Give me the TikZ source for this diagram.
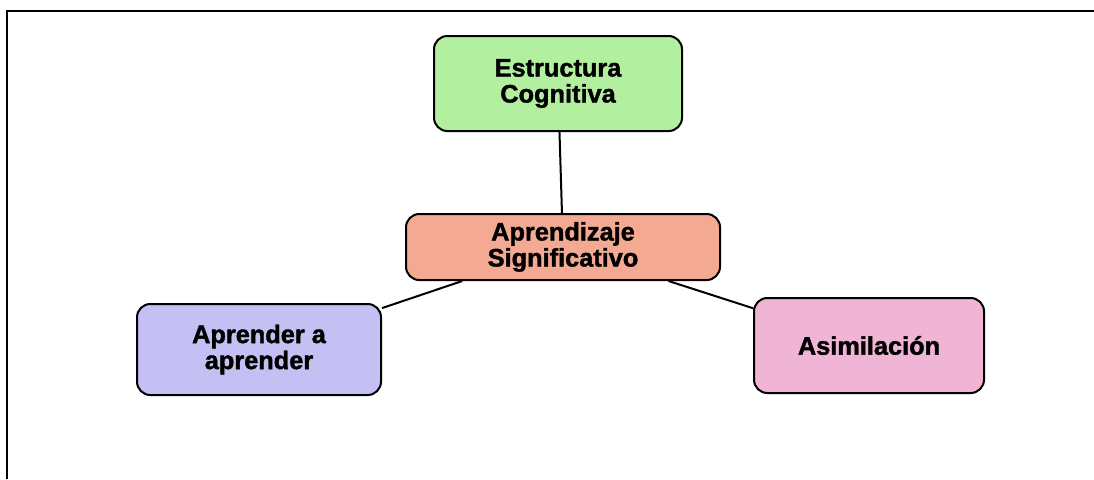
\documentclass[tikz,border=0pt]{standalone}
\usepackage{fontspec}
\setmainfont{Liberation Sans}[BoldFeatures={FakeBold=1.5}]
\usepackage{tikz}

\begin{document}
\begin{tikzpicture}[x=0.75pt,y=0.75pt,yscale=-1,xscale=1,
        concepto/.style={draw, line width=1.5pt, rounded corners=10pt, align=center, inner sep=0.75pt, font=\fontsize{19pt}{19.5pt}\selectfont\bfseries},
        enlace/.style={line width=1.5pt}]
        \useasboundingbox (0,0) rectangle (1094,479);

        %Straight Lines [frame]
        \draw [line width=1.5pt] (7,479) -- (7,10.5) -- (1094,10.5) ;

        % Text Node
        \node [concepto, fill={rgb, 255:red, 178; green, 240; blue, 160 }, minimum width=186pt, minimum height=71.25pt] (estructura) at (558,83.5) {Estructura\\Cognitiva};
        % Text Node
        \node [concepto, fill={rgb, 255:red, 244; green, 170; blue, 146 }, minimum width=235.5pt, minimum height=49.5pt] (aprendizaje) at (563,247) {Aprendizaje\\Significativo};
        % Text Node
        \node [concepto, fill={rgb, 255:red, 196; green, 192; blue, 244 }, minimum width=183pt, minimum height=68.25pt] (aprender) at (259,349.5) {Aprender a\\aprender};
        % Text Node
        \node [concepto, fill={rgb, 255:red, 240; green, 180; blue, 212 }, minimum width=172.5pt, minimum height=71.25pt] (asimilacion) at (869,345.5) {Asimilación};

        %Straight Lines
        \draw [enlace] (estructura) -- (aprendizaje) ;
        %Straight Lines
        \draw [enlace] (aprendizaje) -- (aprender) ;
        %Straight Lines
        \draw [enlace] (aprendizaje) -- (asimilacion) ;

    \end{tikzpicture}
\end{document}
